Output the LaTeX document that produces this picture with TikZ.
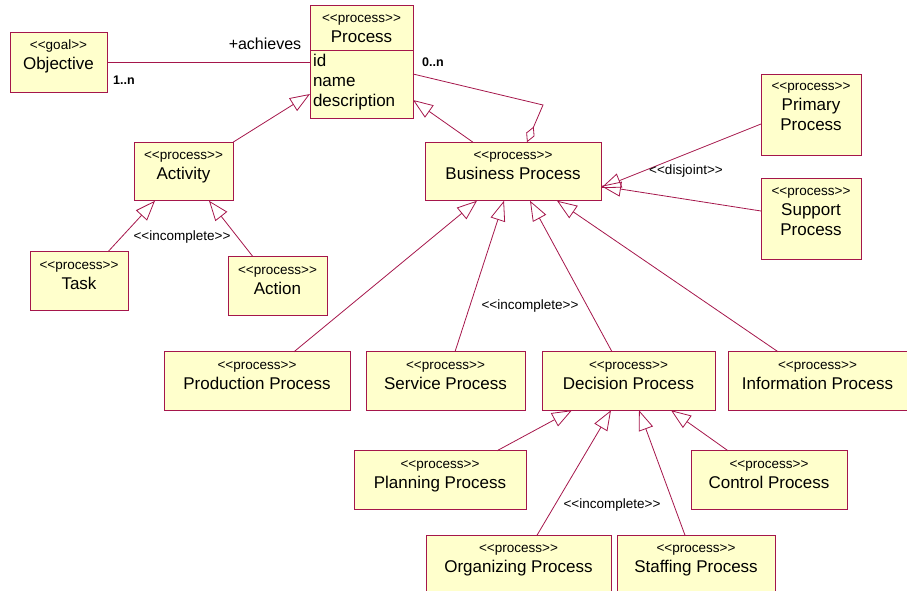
\documentclass[tikz,border=0pt]{standalone}
\usepackage{fontspec}
\newfontfamily\umlfont{Liberation Sans}
\usetikzlibrary{positioning}
\usetikzlibrary{arrows.meta}
\definecolor{umlred}{RGB}{165,22,75}
\definecolor{umlfill}{RGB}{255,255,204}
\newcommand{\stereo}[1]{{\fontsize{13.5}{15}\selectfont<<#1>>}}
\newcommand{\cls}[2]{\begin{tabular}[b]{@{}c@{}}\stereo{#1}\\#2\end{tabular}}
\tikzset{
	every node/.style={font=\umlfont\fontsize{17}{20}\selectfont},
	cls/.style={rectangle, draw=umlred, fill=umlfill, line width=0.8pt, inner sep=0pt, outer sep=0pt, text height=37.5pt, text depth=21pt, minimum width=#1},
	tall/.style={text height=57pt, text depth=24pt},
	gen/.style={draw=umlred, line width=0.8pt, -{Triangle[open, length=20pt, width=15pt]}},
	assoc/.style={draw=umlred, line width=0.8pt},
	agg/.style={draw=umlred, line width=0.8pt, {Diamond[open, length=17pt, width=9pt]}-},
	el/.style={inner sep=1pt, font=\umlfont\fontsize{13.5}{15}\selectfont},
	mult/.style={inner sep=1pt, font=\umlfont\bfseries\fontsize{12.5}{14}\selectfont}
}

\begin{document}
\begin{tikzpicture}[x=1pt, y=-1pt]
	\useasboundingbox (0,0) rectangle (907,591);
	% classes
	\node (obj) [cls=97pt, text depth=22.5pt] at (58.5,62) {\cls{goal}{Objective}};
	\node (proc) [cls=103pt, text height=38pt, text depth=7pt] at (361.5,27.5) {\cls{process}{Process}};
	\node (attr) [cls=103pt, below=0pt of proc, text height=17pt, text depth=51pt, inner xsep=3pt] {\begin{tabular}[t]{@{}p{97pt}@{}}id\\name\\description\end{tabular}};
	\node (act) [cls=99pt] at (183.5,171.5) {\cls{process}{Activity}};
	\node (task) [cls=98pt] at (79,281) {\cls{process}{Task}};
	\node (action) [cls=99pt] at (277.5,286) {\cls{process}{Action}};
	\node (bp) [cls=176pt] at (513,171.5) {\cls{process}{Business Process}};
	\node (prim) [cls=100pt, tall] at (811,114.5) {\cls{process}{Primary\\Process}};
	\node (supp) [cls=100pt, tall] at (811,218.5) {\cls{process}{Support\\Process}};
	\node (prod) [cls=186pt] at (257,381) {\cls{process}{Production Process}};
	\node (serv) [cls=159pt] at (445.5,381) {\cls{process}{Service Process}};
	\node (dec) [cls=173pt] at (628.5,381) {\cls{process}{Decision Process}};
	\node (info) [cls=179pt] at (817.5,381) {\cls{process}{Information Process}};
	\node (plan) [cls=172pt] at (440,480) {\cls{process}{Planning Process}};
	\node (ctrl) [cls=156pt] at (769,480) {\cls{process}{Control Process}};
	\node (org) [cls=185pt] at (518.5,564.5) {\cls{process}{Organizing Process}};
	\node (staff) [cls=158pt] at (696,564.5) {\cls{process}{Staffing Process}};
	
	% association and aggregation
	\draw[assoc] (obj.east) -- (obj.east -| attr.west);
	\node (achieves) at (265,44) {\fontsize{16}{18}\selectfont +achieves};
	\node (m1) [mult] at (124,80) {1..n};
	\node (m0) [mult] at (433,62) {0..n};
	\coordinate (bend) at (543,105);
	\draw[agg] ([xshift=14pt]bp.north) -- (bend) -- ([yshift=10pt]attr.east);
	
	% generalizations
	\draw[gen] (act.north east) -- ([yshift=-10pt]attr.west);
	\draw[gen] ([xshift=-40pt]bp.north) -- ([yshift=-16pt]attr.east);
	\draw[gen] ([xshift=29pt]task.north) -- ([xshift=-28.5pt]act.south);
	\draw[gen] ([xshift=-24.5pt]action.north) -- ([xshift=25.5pt]act.south);
	\node (inc1) [el] at (182,237) {<<incomplete>>};
	\draw[gen] ([yshift=-9.5pt]prim.west) -- ([yshift=-16.5pt]bp.east);
	\draw[gen] ([yshift=7.5pt]supp.west) -- ([yshift=-14.5pt]bp.east);
	\node (disj) [el] at (686,171) {<<disjoint>>};
	\draw[gen] ([xshift=37pt]prod.north) -- ([xshift=-36pt]bp.south);
	\draw[gen] ([xshift=9.5pt]serv.north) -- ([xshift=-9pt]bp.south);
	\draw[gen] ([xshift=-16.5pt]dec.north) -- ([xshift=17pt]bp.south);
	\draw[gen] ([xshift=-39.5pt]info.north) -- ([xshift=44pt]bp.south);
	\node (inc2) [el] at (530,306) {<<incomplete>>};
	\draw[gen] ([xshift=57pt]plan.north) -- ([xshift=-56.5pt]dec.south);
	\draw[gen] ([xshift=18.5pt]org.north) -- ([xshift=-17.5pt]dec.south);
	\draw[gen] ([xshift=-11pt]staff.north) -- ([xshift=10.5pt]dec.south);
	\draw[gen] ([xshift=-41pt]ctrl.north) -- ([xshift=42.5pt]dec.south);
	\node (inc3) [el] at (612,505) {<<incomplete>>};
\end{tikzpicture}
\end{document}
